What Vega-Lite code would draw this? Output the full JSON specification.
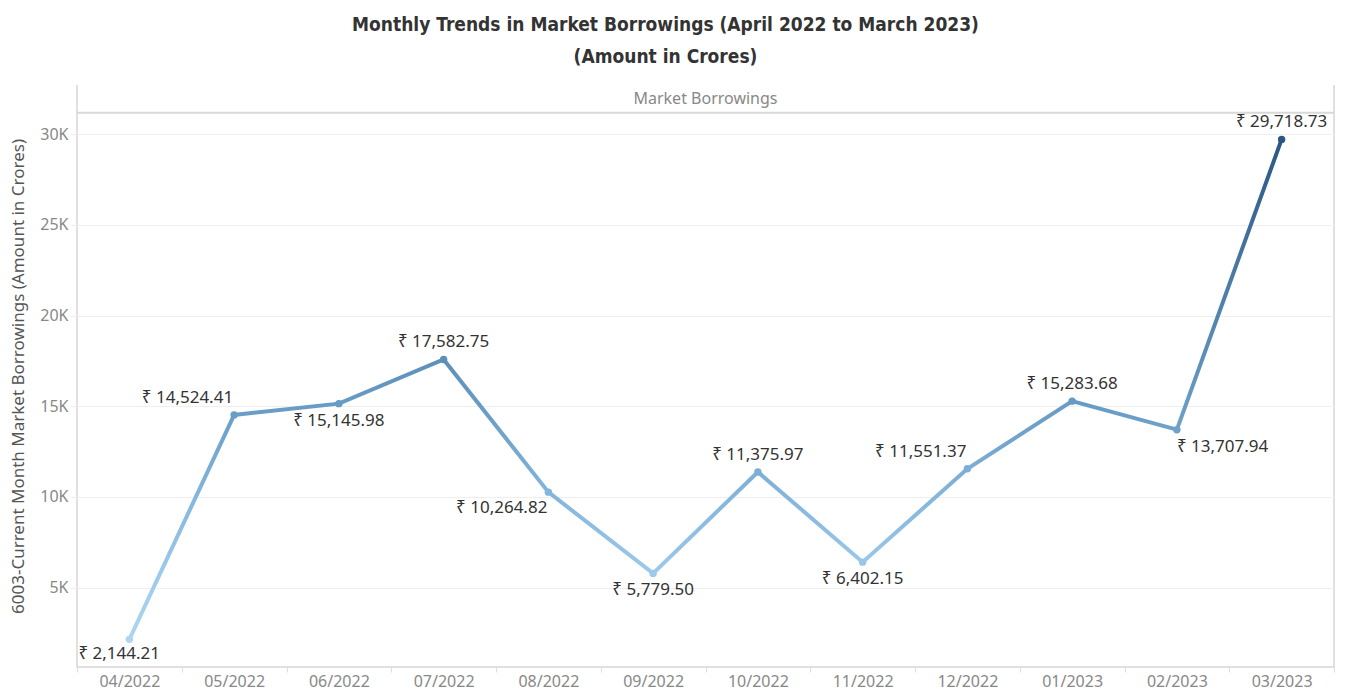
{
  "$schema": "https://vega.github.io/schema/vega-lite/v6.json",
  "autosize": "none",
  "width": 1257,
  "height": 582,
  "padding": {"left": 77, "top": 85, "right": 17, "bottom": 25},
  "background": "white",
  "title": {
    "text": ["Monthly Trends in Market Borrowings (April 2022  to March 2023)", "(Amount in Crores)"],
    "font": "DejaVu Sans Condensed, Liberation Sans Narrow, sans-serif",
    "fontSize": 19,
    "fontWeight": "bold",
    "color": "#333333",
    "lineHeight": 32,
    "anchor": "middle",
    "dx": -40,
    "offset": 18
  },
  "config": {
    "font": "Noto Sans",
    "view": {"stroke": "#d6d6d6", "strokeWidth": 1.5, "strokeDash": [0, 1257, 2421]}
  },
  "datasets": {
    "main": [
      {"month": "04/2022", "value": 2144.21},
      {"month": "05/2022", "value": 14524.41},
      {"month": "06/2022", "value": 15145.98},
      {"month": "07/2022", "value": 17582.75},
      {"month": "08/2022", "value": 10264.82},
      {"month": "09/2022", "value": 5779.50},
      {"month": "10/2022", "value": 11375.97},
      {"month": "11/2022", "value": 6402.15},
      {"month": "12/2022", "value": 11551.37},
      {"month": "01/2023", "value": 15283.68},
      {"month": "02/2023", "value": 13707.94},
      {"month": "03/2023", "value": 29718.73}
    ],
    "header": [
      {"panel": "Market Borrowings", "separator": 31190, "labelPos": 31950}
    ]
  },
  "data": {"name": "main"},
  "transform": [
    {"calculate": "'₹ ' + format(datum.value, ',.2f')", "as": "label"}
  ],
  "encoding": {
    "x": {
      "field": "month",
      "type": "nominal",
      "sort": null,
      "scale": {"type": "band", "paddingInner": 0, "paddingOuter": 0},
      "axis": {
        "title": null,
        "labelAngle": 0,
        "labelFontSize": 16,
        "labelColor": "#888888",
        "labelPadding": 1,
        "tickBand": "extent",
        "tickSize": 5,
        "tickColor": "#dddddd",
        "domain": false
      }
    },
    "y": {
      "field": "value",
      "type": "quantitative",
      "scale": {"domain": [620, 32720], "zero": false, "nice": false},
      "axis": {
        "values": [5000, 10000, 15000, 20000, 25000, 30000],
        "labelExpr": "datum.value / 1000 + 'K'",
        "labelFontSize": 16,
        "labelColor": "#888888",
        "labelPadding": 2,
        "tickSize": 7,
        "tickColor": "#eeeeee",
        "gridColor": "#efefef",
        "domain": false,
        "title": "6003-Current Month Market Borrowings (Amount in Crores)",
        "titleFontSize": 17,
        "titleFontWeight": "normal",
        "titleColor": "#555555",
        "titlePadding": 12
      }
    }
  },
  "layer": [
    {
      "data": {"name": "header"},
      "transform": [],
      "mark": {"type": "rule", "color": "#d9d9d9", "strokeWidth": 2},
      "encoding": {"y": {"field": "separator", "type": "quantitative"}, "x": null}
    },
    {
      "data": {"name": "header"},
      "transform": [],
      "mark": {"type": "text", "fontSize": 16, "color": "#888888", "baseline": "middle"},
      "encoding": {"y": {"field": "labelPos", "type": "quantitative"}, "x": null, "text": {"field": "panel"}}
    },
    {
      "mark": {
        "type": "line",
        "strokeWidth": 4,
        "color": {
          "gradient": "linear",
          "x1": 0, "y1": 1, "x2": 0, "y2": 0,
          "stops": [
            {"offset": 0, "color": "#afd5ef"},
            {"offset": 0.13, "color": "#9dcaea"},
            {"offset": 0.29, "color": "#84b5dc"},
            {"offset": 0.45, "color": "#6a9ec7"},
            {"offset": 1, "color": "#2a5783"}
          ]
        }
      }
    },
    {
      "mark": {"type": "circle", "size": 55, "opacity": 1},
      "encoding": {
        "color": {
          "field": "value",
          "type": "quantitative",
          "scale": {
            "domain": [2144.21, 5779.5, 10264.82, 14524.41, 29718.73],
            "range": ["#afd5ef", "#9dcaea", "#84b5dc", "#6a9ec7", "#2a5783"]
          },
          "legend": null
        }
      }
    },
    {
      "transform": [{"filter": {"field": "month", "oneOf": ["07/2022", "10/2022", "01/2023", "03/2023"]}}],
      "mark": {"type": "text", "fontSize": 17, "color": "#333333", "baseline": "middle", "align": "center", "dy": -17},
      "encoding": {"text": {"field": "label"}}
    },
    {
      "transform": [{"filter": {"field": "month", "oneOf": ["06/2022", "09/2022", "11/2022"]}}],
      "mark": {"type": "text", "fontSize": 17, "color": "#333333", "baseline": "middle", "align": "center", "dy": 17},
      "encoding": {"text": {"field": "label"}}
    },
    {
      "transform": [{"filter": {"field": "month", "oneOf": ["05/2022", "12/2022"]}}],
      "mark": {"type": "text", "fontSize": 17, "color": "#333333", "baseline": "middle", "align": "right", "dx": -1, "dy": -17},
      "encoding": {"text": {"field": "label"}}
    },
    {
      "transform": [{"filter": {"field": "month", "oneOf": ["08/2022"]}}],
      "mark": {"type": "text", "fontSize": 17, "color": "#333333", "baseline": "middle", "align": "right", "dx": -1, "dy": 16},
      "encoding": {"text": {"field": "label"}}
    },
    {
      "transform": [{"filter": {"field": "month", "oneOf": ["02/2023"]}}],
      "mark": {"type": "text", "fontSize": 17, "color": "#333333", "baseline": "middle", "align": "left", "dx": 0, "dy": 17},
      "encoding": {"text": {"field": "label"}}
    },
    {
      "transform": [{"filter": {"field": "month", "oneOf": ["04/2022"]}}],
      "mark": {"type": "text", "fontSize": 17, "color": "#333333", "baseline": "middle", "align": "left", "dx": -51, "dy": 15},
      "encoding": {"text": {"field": "label"}}
    }
  ]
}
